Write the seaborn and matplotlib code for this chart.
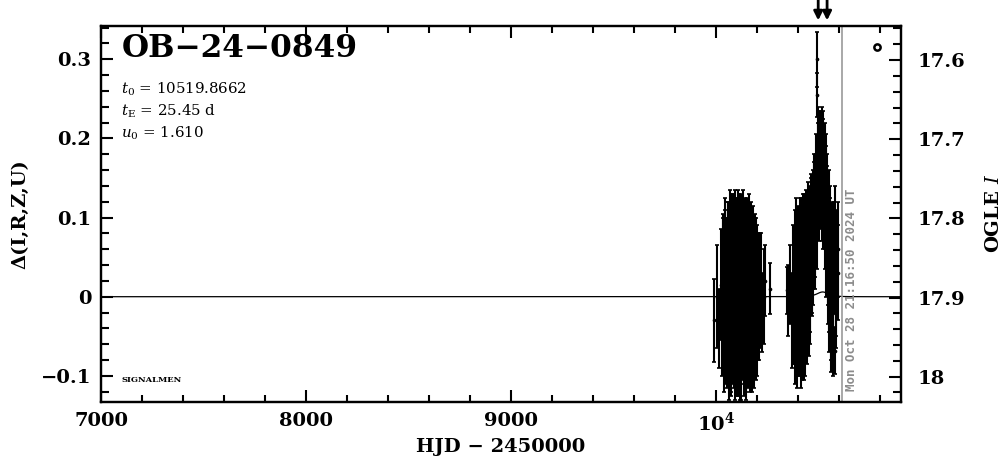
import numpy as np
import matplotlib
matplotlib.use("Agg")
import matplotlib.pyplot as plt
import matplotlib.ticker as mticker
import matplotlib.transforms as mtransforms
import seaborn as sns

# event parameters shown on the chart
event_name = "OB-24-0849"
t0 = 10519.8662
tE = 25.45
u0 = 1.610
t_now = 10612.39
now_label = "Mon Oct 28 21:16:50 2024 UT"
I_base = 17.899

# season 1 (HJD-2450000, delta mag, error)
t1 = [9990, 10004, 10012, 10022, 10030, 10035, 10040, 10045, 10050, 10055,
      10060, 10064, 10068, 10072, 10076, 10080, 10084, 10088, 10092, 10096,
      10100, 10104, 10108, 10112, 10116, 10120, 10124, 10128, 10132, 10136,
      10140, 10144, 10148, 10152, 10156, 10160, 10164, 10168, 10172, 10176,
      10180, 10184, 10188, 10192, 10196, 10200, 10204, 10208, 10212, 10216,
      10220, 10225, 10232, 10240, 10262,
      10033, 10038, 10043, 10048, 10053, 10058, 10062, 10066, 10070, 10074,
      10078, 10082, 10086, 10090, 10094, 10098, 10102, 10106, 10110, 10114,
      10118, 10122, 10126, 10130, 10134, 10138, 10142, 10146, 10150, 10154,
      10158, 10162, 10166, 10170, 10174, 10178, 10182, 10186, 10190, 10194,
      10198, 10206]
d1 = [-0.030, 0.000, -0.040, 0.015, -0.020, 0.025, -0.010, 0.030, -0.035, 0.010,
      0.040, -0.020, 0.020, -0.040, 0.035, 0.000, 0.045, -0.025, 0.015, -0.045,
      0.030, 0.005, -0.030, 0.040, -0.010, 0.020, -0.040, 0.035, 0.000, -0.020,
      0.025, -0.035, 0.010, 0.040, -0.015, 0.020, -0.030, 0.015, 0.035, -0.020,
      0.005, -0.040, 0.025, -0.005, 0.030, -0.025, 0.010, -0.015, 0.020, -0.010,
      0.015, -0.020, 0.000, 0.020, 0.010,
      0.010, -0.030, 0.040, 0.005, -0.015, 0.025, -0.045, 0.045, 0.000, -0.030,
      0.030, -0.010, 0.020, -0.040, 0.040, -0.015, 0.025, 0.050, -0.025, 0.015,
      -0.045, 0.030, -0.005, 0.045, -0.030, 0.010, 0.030, -0.040, 0.000, 0.025,
      -0.025, 0.040, -0.010, 0.010, -0.035, 0.030, 0.000, -0.020, 0.020, -0.030,
      0.015, -0.010]
e1 = [0.052, 0.065, 0.050, 0.070, 0.080, 0.075, 0.085, 0.080, 0.075, 0.090,
      0.080, 0.090, 0.085, 0.080, 0.090, 0.095, 0.085, 0.090, 0.095, 0.080,
      0.095, 0.090, 0.095, 0.090, 0.085, 0.095, 0.090, 0.085, 0.095, 0.090,
      0.090, 0.085, 0.090, 0.085, 0.090, 0.085, 0.090, 0.080, 0.085, 0.085,
      0.080, 0.075, 0.080, 0.075, 0.070, 0.075, 0.070, 0.065, 0.060, 0.055,
      0.065, 0.050, 0.060, 0.045, 0.032,
      0.095, 0.090, 0.085, 0.095, 0.100, 0.095, 0.085, 0.090, 0.100, 0.095,
      0.100, 0.100, 0.100, 0.090, 0.095, 0.100, 0.100, 0.085, 0.100, 0.095,
      0.085, 0.100, 0.100, 0.090, 0.095, 0.100, 0.095, 0.090, 0.100, 0.095,
      0.090, 0.090, 0.090, 0.085, 0.085, 0.085, 0.080, 0.080, 0.080, 0.075,
      0.075, 0.070]

# season 2
t2 = [10346, 10352, 10362, 10370, 10376, 10382, 10387, 10391, 10395, 10399,
      10403, 10407, 10411, 10415, 10419, 10423, 10427, 10431, 10435, 10439,
      10443, 10447, 10451, 10455, 10459, 10463, 10467, 10471, 10475, 10479,
      10483, 10487, 10490, 10492, 10494, 10496, 10499, 10502, 10505, 10508,
      10511, 10514, 10517, 10520, 10523, 10526, 10529, 10533, 10536, 10539,
      10542, 10545, 10549, 10553, 10557, 10562, 10567, 10572, 10578, 10584,
      10590, 10596,
      10380, 10385, 10389, 10393, 10397, 10401, 10405, 10409, 10413, 10417,
      10421, 10425, 10429, 10433, 10437, 10441, 10445, 10449, 10453, 10457,
      10461, 10465, 10469, 10473, 10477, 10481, 10485, 10489, 10497, 10503,
      10507, 10513, 10518, 10521, 10524, 10527, 10531, 10535, 10538, 10541,
      10544, 10547, 10551, 10555, 10560, 10565, 10570, 10575, 10581, 10587,
      10593]
d2 = [0.008, -0.005, 0.015, -0.030, 0.020, -0.010, 0.030, -0.035, 0.010, 0.045,
      -0.020, 0.025, 0.000, 0.050, -0.025, 0.035, 0.010, 0.060, -0.015, 0.040,
      0.020, 0.070, 0.005, 0.055, 0.030, 0.085, 0.045, 0.100, 0.060, 0.110,
      0.075, 0.125, 0.095, 0.300, 0.255, 0.140, 0.190, 0.125, 0.170, 0.140,
      0.185, 0.160, 0.190, 0.150, 0.180, 0.135, 0.165, 0.120, 0.150, 0.090,
      0.120, 0.060, 0.095, 0.030, 0.070, 0.000, 0.045, -0.020, -0.068, 0.020,
      0.060, 0.030,
      0.000, -0.020, 0.040, 0.015, -0.030, 0.020, -0.005, 0.035, -0.030, 0.020,
      0.005, 0.045, -0.020, 0.030, 0.010, 0.055, 0.000, 0.040, 0.070, 0.020,
      0.060, 0.090, 0.050, 0.080, 0.120, 0.090, 0.105, 0.150, 0.165, 0.180,
      0.150, 0.175, 0.130, 0.170, 0.120, 0.155, 0.100, 0.130, 0.070, 0.100,
      0.040, 0.080, 0.010, 0.050, -0.010, 0.030, 0.000, 0.050, 0.080, 0.010,
      0.060]
e2 = [0.030, 0.045, 0.050, 0.060, 0.070, 0.075, 0.080, 0.070, 0.085, 0.070,
      0.080, 0.085, 0.090, 0.075, 0.080, 0.085, 0.090, 0.070, 0.085, 0.080,
      0.085, 0.075, 0.080, 0.070, 0.075, 0.065, 0.070, 0.060, 0.070, 0.060,
      0.065, 0.055, 0.060, 0.035, 0.028, 0.060, 0.050, 0.055, 0.050, 0.055,
      0.050, 0.055, 0.050, 0.055, 0.055, 0.060, 0.055, 0.060, 0.055, 0.065,
      0.060, 0.070, 0.065, 0.075, 0.070, 0.080, 0.075, 0.080, 0.030, 0.070,
      0.050, 0.060,
      0.085, 0.090, 0.085, 0.090, 0.085, 0.090, 0.095, 0.090, 0.085, 0.090,
      0.090, 0.085, 0.085, 0.085, 0.090, 0.080, 0.085, 0.080, 0.070, 0.080,
      0.075, 0.065, 0.070, 0.070, 0.060, 0.065, 0.060, 0.055, 0.055, 0.055,
      0.060, 0.055, 0.060, 0.055, 0.060, 0.055, 0.065, 0.060, 0.070, 0.065,
      0.075, 0.070, 0.080, 0.075, 0.085, 0.080, 0.085, 0.070, 0.060, 0.075,
      0.060]

sns.set_style("ticks")
plt.rcParams["font.family"] = ["DejaVu Serif"]
plt.rcParams["mathtext.fontset"] = "dejavuserif"
for k in ["axes.edgecolor", "text.color", "axes.labelcolor",
          "xtick.color", "ytick.color"]:
    plt.rcParams[k] = "black"

fig = plt.figure(figsize=(10.04, 4.59), dpi=100)
ax = fig.add_axes([0.1006, 0.1242, 0.7968, 0.8192])

# model curve (PSPL from the fitted parameters, strongly blended)
tm = np.linspace(7000, 10900, 4000)
u = np.sqrt(u0 ** 2 + ((tm - t0) / tE) ** 2)
A = (u ** 2 + 2) / (u * np.sqrt(u ** 2 + 4))
dm = 2.5 * np.log10(1 + 0.05 * (A - 1))
sns.lineplot(x=tm, y=dm, ax=ax, color="black", lw=0.9)

for t, d, e in [(t1, d1, e1), (t2, d2, e2)]:
    ax.errorbar(t, d, yerr=e, fmt="none", ecolor="black", elinewidth=1.5,
                capsize=1.5, capthick=1.2)
    sns.scatterplot(x=t, y=d, ax=ax, color="black", s=7, linewidth=0)

ax.axvline(t_now, color="#9a9a9a", lw=1.2)
ax.annotate(now_label, xy=(t_now, 0.03), xycoords=("data", "axes fraction"),
            xytext=(2.5, 0), textcoords="offset points", rotation=90,
            ha="left", va="bottom", color="#8c8c8c", fontsize=9,
            family="DejaVu Sans Mono", fontweight="bold")

# two parallel arrows marking t0
blend = mtransforms.blended_transform_factory(ax.transData, ax.transAxes)
for dx in (-3.2, 3.2):
    tr = mtransforms.offset_copy(blend, fig=fig, x=dx, y=0, units="points")
    ax.annotate("", xy=(t0, 1.0), xycoords=tr,
                xytext=(0, 19.5), textcoords="offset points",
                arrowprops=dict(arrowstyle="-|>", lw=2.0, color="black",
                                mutation_scale=13, shrinkA=0, shrinkB=4.0),
                annotation_clip=False)

ax.plot([0.970], [0.944], transform=ax.transAxes, marker="o", ms=4.5,
        mfc="white", mec="black", mew=1.8, clip_on=False)

ax.set_xlim(7000, 10902)
ax.set_ylim(-0.133, 0.342)

ax.text(0.026, 0.94, event_name.replace("-", "\u2212"), transform=ax.transAxes,
        fontsize=22.5, fontweight="bold", va="center", ha="left")
ax.text(0.025, 0.832, r"$t_0$ = %.4f" % t0, transform=ax.transAxes,
        fontsize=10.8, va="center")
ax.text(0.025, 0.773, r"$t_{\rm E}$ = %.2f d" % tE, transform=ax.transAxes,
        fontsize=10.8, va="center")
ax.text(0.025, 0.714, r"$u_0$ = %.3f" % u0, transform=ax.transAxes,
        fontsize=10.8, va="center")
ax.text(0.026, 0.058, "SIGNALMEN", transform=ax.transAxes, fontsize=6,
        va="center", fontweight="bold")

ax.xaxis.set_major_locator(mticker.MultipleLocator(1000))
ax.xaxis.set_minor_locator(mticker.MultipleLocator(200))
ax.yaxis.set_major_locator(mticker.MultipleLocator(0.1))
ax.yaxis.set_minor_locator(mticker.MultipleLocator(0.02))


def xfmt(v, pos):
    if abs(v - 10000) < 1:
        return r"$\mathbf{10^4}$"
    return "%d" % v


def yfmt(v, pos):
    if abs(v) < 1e-9:
        return "0"
    return ("%.1f" % v).replace("-", "\u2212")


ax.xaxis.set_major_formatter(mticker.FuncFormatter(xfmt))
ax.yaxis.set_major_formatter(mticker.FuncFormatter(yfmt))

ax.tick_params(axis="x", which="both", direction="in", top=True, bottom=True,
               width=1.5, labelsize=14, pad=7)
ax.tick_params(axis="x", which="major", length=8.5)
ax.tick_params(axis="x", which="minor", length=5)
ax.tick_params(axis="y", which="both", direction="in", left=True, right=False,
               width=1.5, labelsize=14, pad=7)
ax.tick_params(axis="y", which="major", length=8.5)
ax.tick_params(axis="y", which="minor", length=6)
for lab in ax.get_xticklabels() + ax.get_yticklabels():
    lab.set_fontweight("bold")
for sp in ax.spines.values():
    sp.set_linewidth(1.6)

ax.set_xlabel("HJD \u2212 2450000", fontsize=14, fontweight="bold", labelpad=2)
ax.set_ylabel("\u0394(I,R,Z,U)", fontsize=14, fontweight="bold", labelpad=8)

ax2 = ax.twinx()
lo, hi = ax.get_ylim()
ax2.set_ylim(I_base - lo, I_base - hi)
ax2.yaxis.set_major_locator(mticker.MultipleLocator(0.1))
ax2.yaxis.set_minor_locator(mticker.MultipleLocator(0.02))
ax2.yaxis.set_major_formatter(mticker.FuncFormatter(lambda v, p: "%g" % round(v, 1)))
ax2.tick_params(axis="y", which="both", direction="in", right=True, width=1.5,
                labelsize=14, pad=12)
ax2.tick_params(axis="y", which="major", length=8.5)
ax2.tick_params(axis="y", which="minor", length=6)
for lab in ax2.get_yticklabels():
    lab.set_fontweight("bold")
for sp in ax2.spines.values():
    sp.set_linewidth(1.6)
ax2.set_ylabel(r"OGLE $I$", fontsize=14, fontweight="bold", labelpad=14)

fig.savefig("out.png", dpi=100)
